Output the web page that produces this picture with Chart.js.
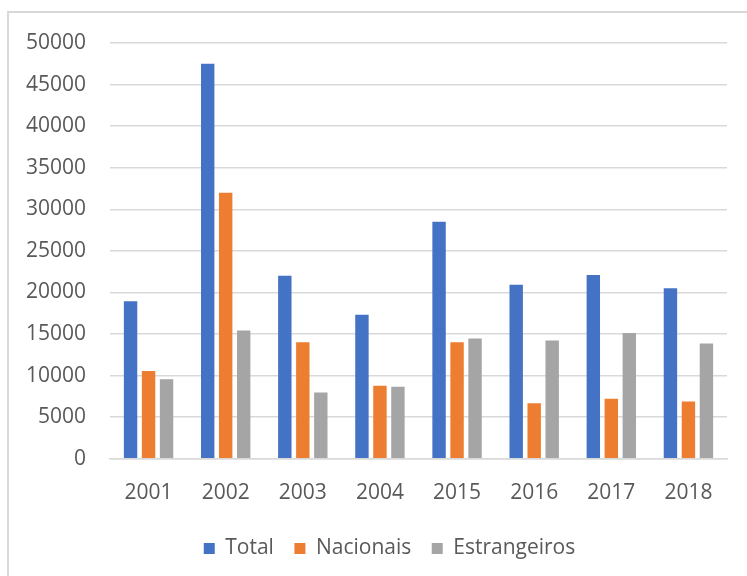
<!DOCTYPE html>
<html>
<head>
<meta charset="utf-8">
<script src="https://cdn.jsdelivr.net/npm/chart.js@4.4.0/dist/chart.umd.min.js"></script>
<style>
    html, body { margin: 0; padding: 0; background: #fff; }
    #wrap { position: relative; width: 747px; height: 576px; overflow: hidden; }
    #frame { position: absolute; left: 7px; top: 11px; width: 800px; height: 700px;
             border-left: 2px solid #d9d9d9; border-top: 2px solid #d9d9d9; }
    canvas { position: absolute; left: 0; top: 0; }
</style>
</head>
<body>
<div id="wrap">
    <div id="frame"></div>
    <canvas id="chart" width="747" height="576"></canvas>
</div>
<script>
const years = ['2001', '2002', '2003', '2004', '2015', '2016', '2017', '2018'];
const total = [18950, 47500, 22000, 17330, 28500, 20920, 22110, 20520];
const nacionais = [10560, 32000, 14030, 8770, 14030, 6690, 7220, 6900];
const estrangeiros = [9560, 15420, 7970, 8650, 14460, 14220, 15140, 13870];
const yTicks = [0, 5000, 10000, 15000, 20000, 25000, 30000, 35000, 40000, 45000, 50000];

const textColor = '#595959';
const font = { family: "'Open Sans', sans-serif", size: 21 };

// Excel centres the legend a bit right of the canvas middle
const shiftLegend = {
    id: 'shiftLegend',
    afterLayout(chart) {
        chart.legend.left += 26;
        chart.legend.right += 26;
    }
};

const ctx = document.getElementById('chart').getContext('2d');
const chart = new Chart(ctx, {
    type: 'bar',
    data: {
        labels: years,
        datasets: [
            { label: 'Total', data: total, backgroundColor: '#4472C4' },
            { label: 'Nacionais', data: nacionais, backgroundColor: '#ED7D31' },
            { label: 'Estrangeiros', data: estrangeiros, backgroundColor: '#A5A5A5' }
        ]
    },
    options: {
        responsive: false,
        animation: false,
        datasets: {
            bar: { categoryPercentage: 0.70, barPercentage: 0.745 }
        },
        layout: { padding: { top: 43, right: 20, bottom: 7, left: 0 } },
        plugins: {
            tooltip: { enabled: false },
            legend: {
                position: 'bottom',
                labels: {
                    color: textColor,
                    font: font,
                    boxWidth: 11,
                    boxHeight: 11,
                    padding: 10,
                    generateLabels: function (chart) {
                        // extra gap after each item, Excel spaces them wider
                        const items = Chart.defaults.plugins.legend.labels.generateLabels(chart);
                        items.forEach((it, i) => {
                            if (i < items.length - 1) it.text = it.text + '\u2002';
                        });
                        return items;
                    }
                }
            }
        },
        scales: {
            x: {
                grid: { display: false, drawTicks: false },
                border: { color: '#d9d9d9', width: 1.5 },
                ticks: { color: textColor, font: font, padding: 22 }
            },
            y: {
                min: 0,
                max: 50000,
                afterFit: function (scale) { scale.width = 110; },
                afterBuildTicks: function (scale) {
                    scale.ticks = yTicks.map(v => ({ value: v }));
                },
                grid: { color: '#d9d9d9', lineWidth: 1.5, drawTicks: false },
                border: { display: false },
                ticks: {
                    color: textColor,
                    font: font,
                    padding: 24,
                    callback: function (value) { return String(value); }
                }
            }
        }
    },
    plugins: [shiftLegend]
});
</script>
</body>
</html>
